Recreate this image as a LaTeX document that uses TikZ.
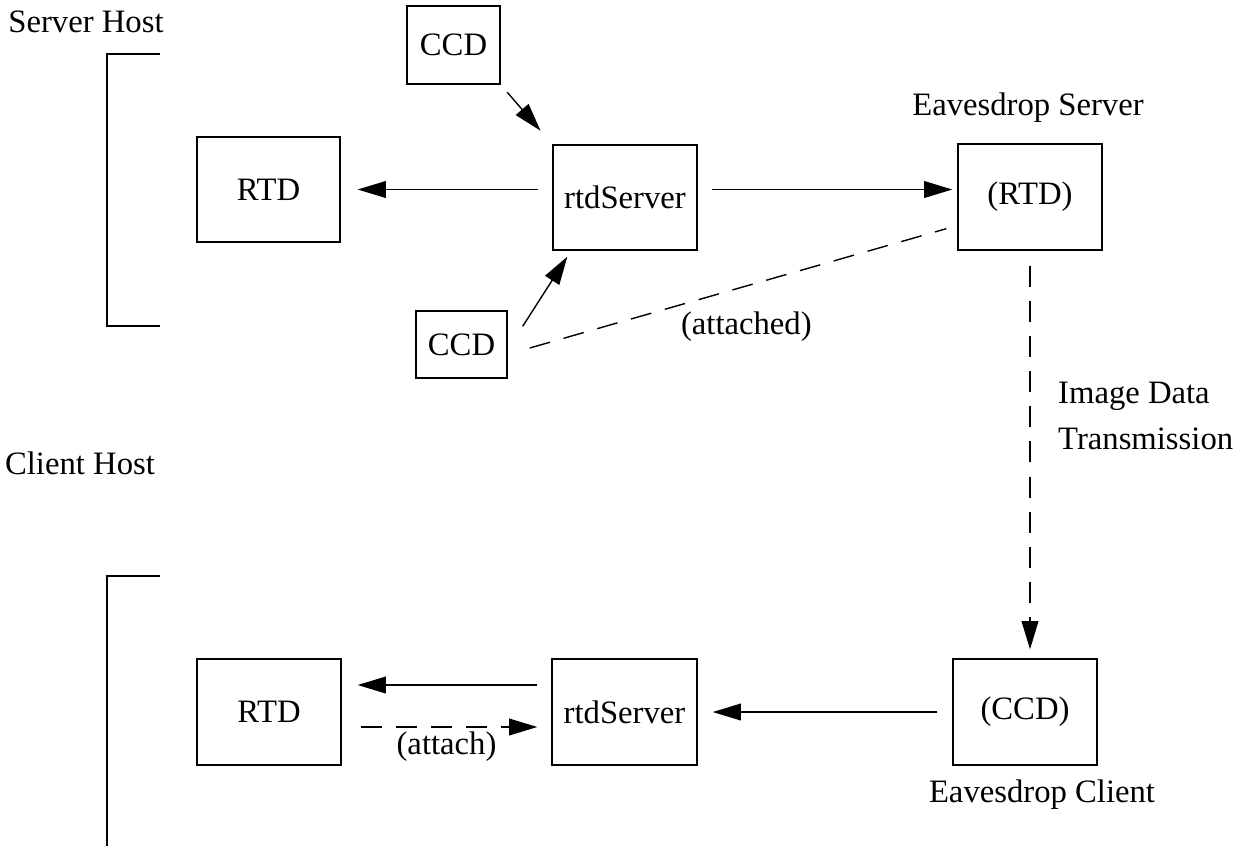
\documentclass[tikz,border=0pt]{standalone}
\usepackage{fontspec}
\setmainfont{Liberation Serif}
\usetikzlibrary{arrows.meta}
\tikzstyle{box} = [rectangle, draw=black, line width=0.8pt, text centered, inner sep=0pt]
\tikzstyle{arrow} = [line width=0.8pt, -{Triangle[length=16pt, width=9.5pt]}]
\tikzstyle{dasharrow} = [arrow, dash pattern=on 12pt off 8pt]
\tikzstyle{line} = [line width=0.8pt, -]

\begin{document}
\begin{tikzpicture}[x=0.02cm, y=-0.02cm, every node/.style={font=\fontsize{18.6}{26}\selectfont}]
    \useasboundingbox (0,0) rectangle (1240,846);

    % server host
    \node (srvhost) at (86,22) {Server Host};
    \draw [line] (160,54) -- (107,54) -- (107,326) -- (160,326);
    \node (ccdA) [box, minimum width=1.86cm, minimum height=1.56cm] at (453.5,45) {CCD};
    \node (rtdA) [box, minimum width=2.86cm, minimum height=2.1cm] at (268.5,189.5) {RTD};
    \node (srvA) [box, minimum width=2.88cm, minimum height=2.1cm] at (625,197.5) {rtdServer};
    \node (edsrv) [box, minimum width=2.88cm, minimum height=2.12cm] at (1030,197) {(RTD)};
    \node (edsrvlbl) at (1028,108) {Eavesdrop Server};
    \node (ccdB) [box, minimum width=1.82cm, minimum height=1.34cm] at (461.5,344.5) {CCD};

    \draw [arrow, shorten <=0.28cm, shorten >=0.34cm] (srvA.west |- rtdA) -- (rtdA.east);
    \draw [arrow, shorten <=0.28cm, shorten >=0.1cm] (srvA.east |- rtdA) -- (edsrv.west |- rtdA);
    \draw [arrow, shorten <=0.2cm, shorten >=0.36cm] (ccdA.south east) -- (srvA.north west);
    \draw [arrow] ([xshift=0.3cm, yshift=-0.32cm]ccdB.north east) -- ([xshift=0.3cm, yshift=-0.12cm]srvA.south west);
    \draw [line, dash pattern=on 12pt off 8pt] ([xshift=0.44cm, yshift=-0.07cm]ccdB.east) -- node[pos=0.52, yshift=-0.82cm] {(attached)} ([xshift=-0.22cm, yshift=0.44cm]edsrv.south west);

    % client host
    \node (clihost) at (80,463) {Client Host};
    \draw [line] (160,576) -- (107,576) -- (107,846);
    \node (rtdB) [box, minimum width=2.88cm, minimum height=2.12cm] at (269,712) {RTD};
    \node (srvB) [box, minimum width=2.9cm, minimum height=2.12cm] at (624.5,712) {rtdServer};
    \node (ccdC) [box, minimum width=2.88cm, minimum height=2.12cm] at (1025,712) {(CCD)};
    \node (edclilbl) at (1042,795) {Eavesdrop Client};

    \draw [dasharrow, shorten <=0.3cm, shorten >=0.18cm] (edsrv.south) -- (edsrv.south |- ccdC.north);
    \node (imglbl) [anchor=west, align=left] at (1052,416) {Image Data\\Transmission};
    \draw [arrow, shorten <=0.3cm, shorten >=0.3cm] (ccdC.west) -- (srvB.east);
    \draw [arrow, shorten <=0.28cm, shorten >=0.32cm] ([yshift=0.54cm]srvB.west) -- ([yshift=0.54cm]rtdB.east);
    \draw [dasharrow, shorten <=0.38cm, shorten >=0.28cm] ([yshift=-0.3cm]rtdB.east) -- node[midway, below=-1pt] {(attach)} ([yshift=-0.3cm]srvB.west);
\end{tikzpicture}
\end{document}
